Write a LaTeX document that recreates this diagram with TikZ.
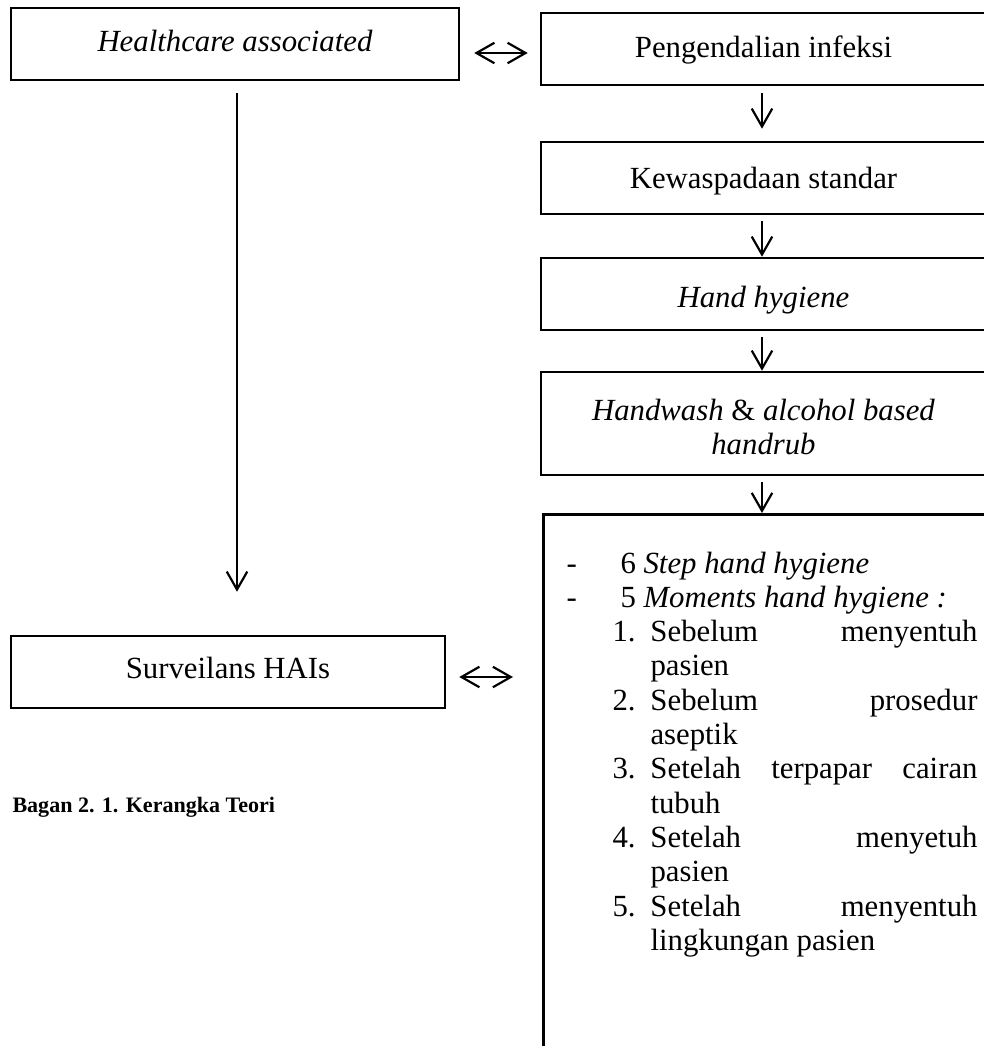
\documentclass[tikz,border=0pt]{standalone}
\usepackage{fontspec}
\setmainfont{Liberation Serif}
\usetikzlibrary{arrows.meta}
\newdimen\pxu \pxu=0.39pt
\newcommand\shiftdown[2]{\raisebox{-#1\pxu}[\height][\depth]{#2}}
\begin{document}
\begin{tikzpicture}[x=0.39pt,y=-0.39pt,
  every node/.style={font=\fontsize{12}{13.4}\selectfont},
  box/.style={draw, line width=1pt, inner sep=0pt, align=center},
  arr/.style={line width=0.85pt, -{Straight Barb[length=7pt,width=8pt]}},
  darr/.style={line width=0.85pt, {Straight Barb[length=7pt,width=8pt]}-{Straight Barb[length=7pt,width=8pt]}},
  itm/.style={anchor=base west, inner sep=0pt}]
\useasboundingbox (0,0) rectangle (984,1046);
% boxes
\node[box, minimum width=448*\pxu, minimum height=72*\pxu] (hc) at (235,44) {\shiftdown{-3}{\textit{Healthcare associated}}};
\node[box, minimum width=445*\pxu, minimum height=72*\pxu] (pi) at (763.5,49) {\shiftdown{1}{Pengendalian infeksi}};
\node[box, minimum width=445*\pxu, minimum height=72*\pxu] (ks) at (763.5,178) {\shiftdown{3}{Kewaspadaan standar}};
\node[box, minimum width=445*\pxu, minimum height=72*\pxu] (hh) at (763.5,294) {\shiftdown{6}{\textit{Hand hygiene}}};
\node[box, minimum width=445*\pxu, minimum height=103*\pxu] (hw) at (763.5,423.5) {\shiftdown{7}{\begin{tabular}{@{}c@{}}\textit{Handwash} \& \textit{alcohol based}\\\textit{handrub}\end{tabular}}};
\node[box, minimum width=434*\pxu, minimum height=72*\pxu] (sv) at (228,672) {\shiftdown{-4}{Surveilans HAIs}};
\node[box, minimum width=448*\pxu, minimum height=700*\pxu, anchor=north west] (lst) at (542,513) {};
% list content
\node[itm] (d1) at (566,573) {-};
\node[itm] (t1) at (620,573) {6 \textit{Step hand hygiene}};
\node[itm] (d2) at (566,607.3) {-};
\node[itm] (t2) at (620,607.3) {5 \textit{Moments hand hygiene :}};
\node[itm] (n1) at (612,641.6) {\makebox[38\pxu][l]{1.}\makebox[327\pxu][l]{Sebelum\hfill menyentuh}};
\node[itm] (c1) at (650,675.9) {pasien};
\node[itm] (n2) at (612,710.2) {\makebox[38\pxu][l]{2.}\makebox[327\pxu][l]{Sebelum\hfill prosedur}};
\node[itm] (c2) at (650,744.5) {aseptik};
\node[itm] (n3) at (612,778.8) {\makebox[38\pxu][l]{3.}\makebox[327\pxu][l]{Setelah\hfill terpapar\hfill cairan}};
\node[itm] (c3) at (650,813.1) {tubuh};
\node[itm] (n4) at (612,847.4) {\makebox[38\pxu][l]{4.}\makebox[327\pxu][l]{Setelah\hfill menyetuh}};
\node[itm] (c4) at (650,881.7) {pasien};
\node[itm] (n5) at (612,916) {\makebox[38\pxu][l]{5.}\makebox[327\pxu][l]{Setelah\hfill menyentuh}};
\node[itm] (c5) at (650,950.3) {lingkungan pasien};
% caption
\node[itm, font=\bfseries\fontsize{8.6}{11}\selectfont] (cap) at (12,812) {Bagan 2. 1. Kerangka Teori};
% connectors
\draw[arr, shorten <=12*\pxu, shorten >=43*\pxu] ([xshift=2*\pxu]hc.south) -- ([xshift=2*\pxu]hc.south |- sv.north);
\draw[darr, shorten <=14*\pxu, shorten >=12*\pxu] ([yshift=-9*\pxu]hc.east) -- ([yshift=-9*\pxu]hc.east -| pi.west);
\draw[darr, shorten <=13*\pxu, shorten >=29*\pxu] ([yshift=-5*\pxu]sv.east) -- ([yshift=-5*\pxu]sv.east -| lst.west);
\draw[arr, shorten <=7*\pxu, shorten >=12*\pxu] ([xshift=-1.5*\pxu]pi.south) -- ([xshift=-1.5*\pxu]ks.north);
\draw[arr, shorten <=6*\pxu] ([xshift=-1.5*\pxu]ks.south) -- ([xshift=-1.5*\pxu]hh.north);
\draw[arr, shorten <=6*\pxu] ([xshift=-1.5*\pxu]hh.south) -- ([xshift=-1.5*\pxu]hw.north);
\draw[arr, shorten <=6*\pxu] ([xshift=-1.5*\pxu]hw.south) -- ([xshift=-1.5*\pxu]hw.south |- lst.north);
\end{tikzpicture}
\end{document}
